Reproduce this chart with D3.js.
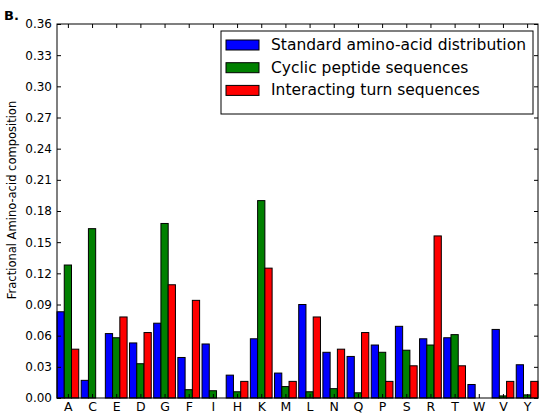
<!DOCTYPE html>
<html>
<head>
<meta charset="utf-8">
<script src="https://cdn.jsdelivr.net/npm/d3@7"></script>
<style>
  body { margin: 0; background: #fff; }
  svg { display: block; font-family: "DejaVu Sans", sans-serif; }
</style>
</head>
<body>
<div class="chart"></div>
<script>
// --- data
const aminoAcids = ["A","C","E","D","G","F","I","H","K","M","L","N","Q","P","S","R","T","W","V","Y"];
const standardDist = [0.083,0.017,0.062,0.053,0.072,0.039,0.052,0.022,0.057,0.024,0.090,0.044,0.040,0.051,0.069,0.057,0.058,0.013,0.066,0.032];
const cyclicSeq    = [0.128,0.163,0.058,0.033,0.168,0.008,0.007,0.006,0.190,0.011,0.006,0.009,0.005,0.044,0.046,0.051,0.061,0.000,0.002,0.003];
const turnSeq      = [0.047,0.000,0.078,0.063,0.109,0.094,0.000,0.016,0.125,0.016,0.078,0.047,0.063,0.016,0.031,0.156,0.031,0.000,0.016,0.016];
const seriesNames  = ["Standard amino-acid distribution","Cyclic peptide sequences","Interacting turn sequences"];
const seriesColors = ["#0000ff","#008000","#ff0000"];
const yTicks = [0,0.03,0.06,0.09,0.12,0.15,0.18,0.21,0.24,0.27,0.30,0.33,0.36];

const series = [standardDist, cyclicSeq, turnSeq];
const barW = 0.3;

const width = 540, height = 414;
const m = { left: 57, right: 538, top: 24, bottom: 398 };

const svg = d3.select(".chart").append("svg")
    .attr("width", width)
    .attr("height", height);

const x = d3.scaleLinear().domain([0, 19.9]).range([m.left, m.right]);
const y = d3.scaleLinear().domain([0, 0.36]).range([m.bottom, m.top]);

// --- bars
series.forEach(function(vals, k) {
    svg.append("g")
        .selectAll("rect")
        .data(vals)
        .enter().append("rect")
        .attr("x", (d, i) => x(i + k * barW))
        .attr("width", x(barW) - x(0))
        .attr("y", d => y(d))
        .attr("height", d => y(0) - y(d))
        .attr("fill", seriesColors[k])
        .attr("stroke", "#000")
        .attr("stroke-width", 1);
});

// --- axes (ticks inside like matplotlib classic)
const catPos = aminoAcids.map((a, i) => i + 1.5 * barW);

svg.append("g")
    .attr("transform", `translate(${m.left},0)`)
    .call(d3.axisLeft(y).tickValues(yTicks).tickFormat(d3.format(".2f")).tickSizeInner(-4).tickSizeOuter(0).tickPadding(5))
    .call(g => g.selectAll("text").attr("font-size", 12).attr("fill", "#000").attr("font-family", "DejaVu Sans"));

svg.append("g")
    .attr("transform", `translate(${m.right},0)`)
    .call(d3.axisRight(y).tickValues(yTicks).tickFormat("").tickSizeInner(-4).tickSizeOuter(0));

svg.append("g")
    .attr("transform", `translate(0,${m.bottom})`)
    .call(d3.axisBottom(x).tickValues(catPos).tickFormat((d, i) => aminoAcids[i]).tickSizeInner(-4).tickSizeOuter(0).tickPadding(4))
    .call(g => g.selectAll("text").attr("font-size", 12.5).attr("fill", "#000").attr("font-family", "DejaVu Sans"));

svg.append("g")
    .attr("transform", `translate(0,${m.top})`)
    .call(d3.axisTop(x).tickValues(catPos).tickFormat("").tickSizeInner(-4).tickSizeOuter(0));

svg.selectAll(".domain").remove();
svg.selectAll(".tick line").attr("stroke", "#000");

// frame
svg.append("rect")
    .attr("x", m.left).attr("y", m.top)
    .attr("width", m.right - m.left).attr("height", m.bottom - m.top)
    .attr("fill", "none").attr("stroke", "#000").attr("stroke-width", 1);

// --- labels
svg.append("text")
    .attr("transform", "translate(12,200) rotate(-90)")
    .attr("text-anchor", "middle")
    .attr("dominant-baseline", "central")
    .attr("font-size", 11.5)
    .text("Fractional Amino-acid composition");

svg.append("text")
    .attr("x", 4).attr("y", 20)
    .attr("font-size", 13)
    .attr("font-weight", "bold")
    .text("B.");

// --- legend
const legend = svg.append("g").attr("class", "legend");
legend.append("rect")
    .attr("x", 221).attr("y", 31)
    .attr("width", 312).attr("height", 83)
    .attr("fill", "#fff").attr("stroke", "#000").attr("stroke-width", 1);

const rows = legend.selectAll(".row")
    .data(seriesNames)
    .enter().append("g")
    .attr("transform", (d, i) => `translate(0,${45 + i * 22.7})`);

rows.append("rect")
    .attr("x", 226).attr("y", -5)
    .attr("width", 33).attr("height", 10)
    .attr("fill", (d, i) => seriesColors[i])
    .attr("stroke", "#000").attr("stroke-width", 1);

rows.append("text")
    .attr("x", 271).attr("y", 0)
    .attr("dominant-baseline", "central")
    .attr("font-size", 15.5)
    .text(d => d);
</script>
</body>
</html>
